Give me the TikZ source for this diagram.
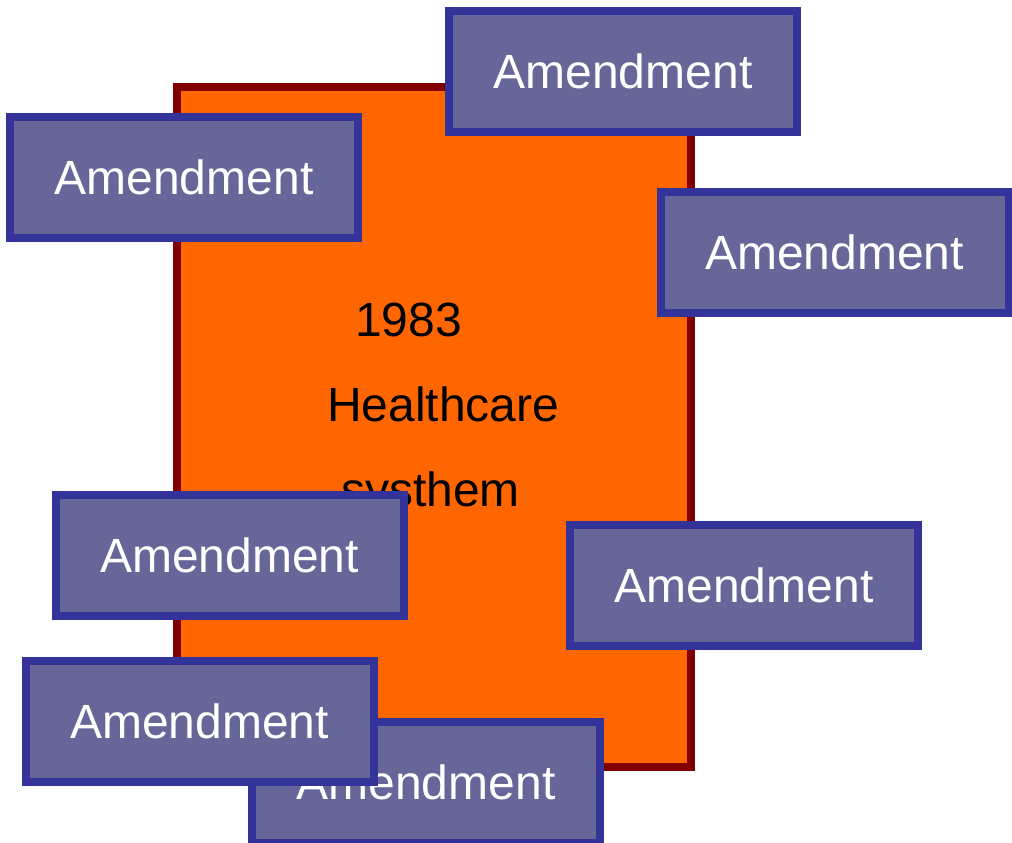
\documentclass[tikz,border=0pt]{standalone}
\usepackage{fontspec}
\setmainfont{Liberation Sans}
\definecolor{boxfill}{HTML}{666699}
\definecolor{boxline}{HTML}{333399}
\definecolor{sysfill}{HTML}{FF6600}
\definecolor{sysline}{HTML}{800000}
\tikzset{
  amend/.style={draw=boxline, fill=boxfill, line width=8pt, minimum width=348pt,
    minimum height=121pt, inner sep=0pt, text=white,
    font=\fontsize{48}{56}\selectfont},
  sysbox/.style={draw=sysline, fill=sysfill, line width=7.5pt, minimum width=514pt,
    minimum height=680pt, inner sep=0pt},
  systext/.style={anchor=base west, inner sep=0pt, text=black,
    font=\fontsize{48}{56}\selectfont}
}
\begin{document}
\begin{tikzpicture}[x=1pt,y=-1pt]
\useasboundingbox (0,0) rectangle (1012,843);
\node[sysbox] (sys) at (434,427) {};
\node[systext] (t1) at (355,336) {1983};
\node[systext] (t2) at (327,421) {Healthcare};
\node[systext] (t3) at (341,506) {systhem};
\node[amend] (a1) at (623,71.5) {Amendment};
\node[amend] (a2) at (184,177) {Amendment};
\node[amend] (a3) at (834.5,252.5) {Amendment};
\node[amend] (a4) at (229.5,555) {Amendment};
\node[amend] (a5) at (744,585.5) {Amendment};
\node[amend] (a7) at (426,782.5) {Amendment};
\node[amend] (a6) at (199.5,721.5) {Amendment};
\end{tikzpicture}
\end{document}
